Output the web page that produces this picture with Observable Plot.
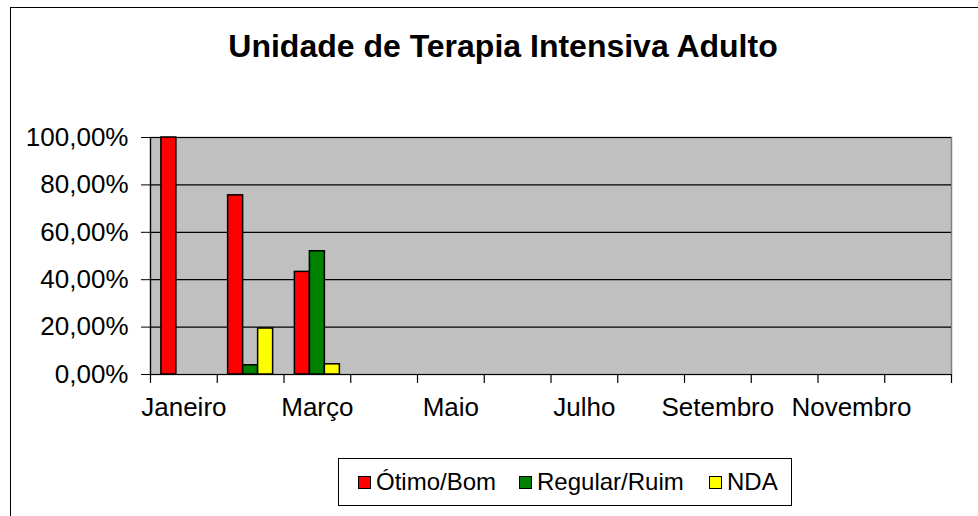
<!DOCTYPE html>
<html>
<head>
<meta charset="utf-8">
<script src="https://cdn.jsdelivr.net/npm/d3@7"></script>
<script src="https://cdn.jsdelivr.net/npm/@observablehq/plot@0.6"></script>
<style>
  html, body { margin: 0; padding: 0; background: #fff; overflow: hidden; }
  body { width: 978px; height: 516px; position: relative; font-family: "Liberation Sans", Arial, sans-serif; }
  #border { position: absolute; left: 10px; top: 7px; width: 1000px; height: 600px; border-left: 1.5px solid #000; border-top: 1.5px solid #000; box-sizing: border-box; }
  #title { position: absolute; left: 0; top: 28px; width: 1006px; text-align: center; font-weight: bold; font-size: 32px; color: #000; }
  #chart { position: absolute; left: 0; top: 0; }
  #legend { position: absolute; left: 338px; top: 458px; width: 454px; height: 48px; border: 1.5px solid #000; box-sizing: border-box; font-size: 24px; }
  .item { display: flex; align-items: center; position: absolute; top: 9px; }
  .sw { width: 13px; height: 13px; border: 1.5px solid #000; box-sizing: border-box; margin-right: 5px; }
</style>
</head>
<body>
<div id="border"></div>
<div id="title">Unidade de Terapia Intensiva Adulto</div>
<div id="chart"></div>
<div id="legend"></div>
<script>
const months = ["Janeiro","Fevereiro","Março","Abril","Maio","Junho","Julho","Agosto","Setembro","Outubro","Novembro","Dezembro"];
const seriesNames = ["Ótimo/Bom","Regular/Ruim","NDA"];
const otimoBom = [100, 75.6, 43.3];
const regularRuim = [0, 3.9, 52.0];
const nda = [0, 19.4, 4.3];
const seriesColors = ["#FF0000","#008000","#FFFF00"];
const yTicks = [0, 20, 40, 60, 80, 100];
const xLabels = ["Janeiro","Março","Maio","Julho","Setembro","Novembro"];

const seriesValues = [otimoBom, regularRuim, nda];
const W = 978, H = 440;
const mL = 150, mR = 27, mT = 137, mB = H - 374;
const bw = (W - mL - mR) / months.length;
const barW = 15;

const marks = [
  Plot.frame({fill: "#C0C0C0", stroke: "#808080", strokeWidth: 1.5}),
  Plot.ruleY(yTicks.filter(d => d > 0), {stroke: "#000", strokeWidth: 1.2}),
  Plot.ruleY([0], {stroke: "#000", strokeWidth: 1.2})
];
seriesValues.forEach((vals, k) => {
  const rows = vals.map((v, i) => ({month: months[i], value: v})).filter(d => d.value > 0);
  marks.push(Plot.barY(rows, {
    x: "month", y: "value", fill: seriesColors[k], stroke: "#000", strokeWidth: 1.5,
    insetLeft: (bw - barW) / 2, insetRight: (bw - barW) / 2, dx: (k - 1) * barW
  }));
});
// category tick marks at band edges and y axis line
marks.push(Plot.ruleX(months, {x: d => d, dx: -bw / 2, y1: -3.8, y2: d => d === months[0] ? 100 : 0, stroke: "#000", strokeWidth: 1.2}));
marks.push(Plot.ruleX([months[months.length - 1]], {x: d => d, dx: bw / 2, y1: -3.8, y2: 0, stroke: "#000", strokeWidth: 1.2}));
marks.push(Plot.axisY({ticks: yTicks, tickSize: 9, tickPadding: 13, fontSize: 26, tickFormat: d => d.toFixed(2).replace(".", ",") + "%", label: null}));
marks.push(Plot.axisX({ticks: xLabels, tickSize: 0, tickPadding: 23, fontSize: 26, label: null}));

const chart = Plot.plot({
  width: W, height: H,
  marginLeft: mL, marginRight: mR, marginTop: mT, marginBottom: mB,
  style: {fontFamily: "Liberation Sans, Arial, sans-serif", color: "#000", background: "transparent", overflow: "visible"},
  x: {domain: months, padding: 0, round: false, label: null},
  y: {domain: [0, 100], label: null},
  marks
});
document.getElementById("chart").append(chart);

const legend = document.getElementById("legend");
const legendX = [19, 180, 370];
seriesNames.forEach((name, k) => {
  const it = document.createElement("div");
  it.className = "item";
  it.style.left = legendX[k] + "px";
  const sw = document.createElement("div");
  sw.className = "sw";
  sw.style.background = seriesColors[k];
  const tx = document.createElement("span");
  tx.textContent = name;
  it.append(sw, tx);
  legend.append(it);
});
</script>
</body>
</html>
